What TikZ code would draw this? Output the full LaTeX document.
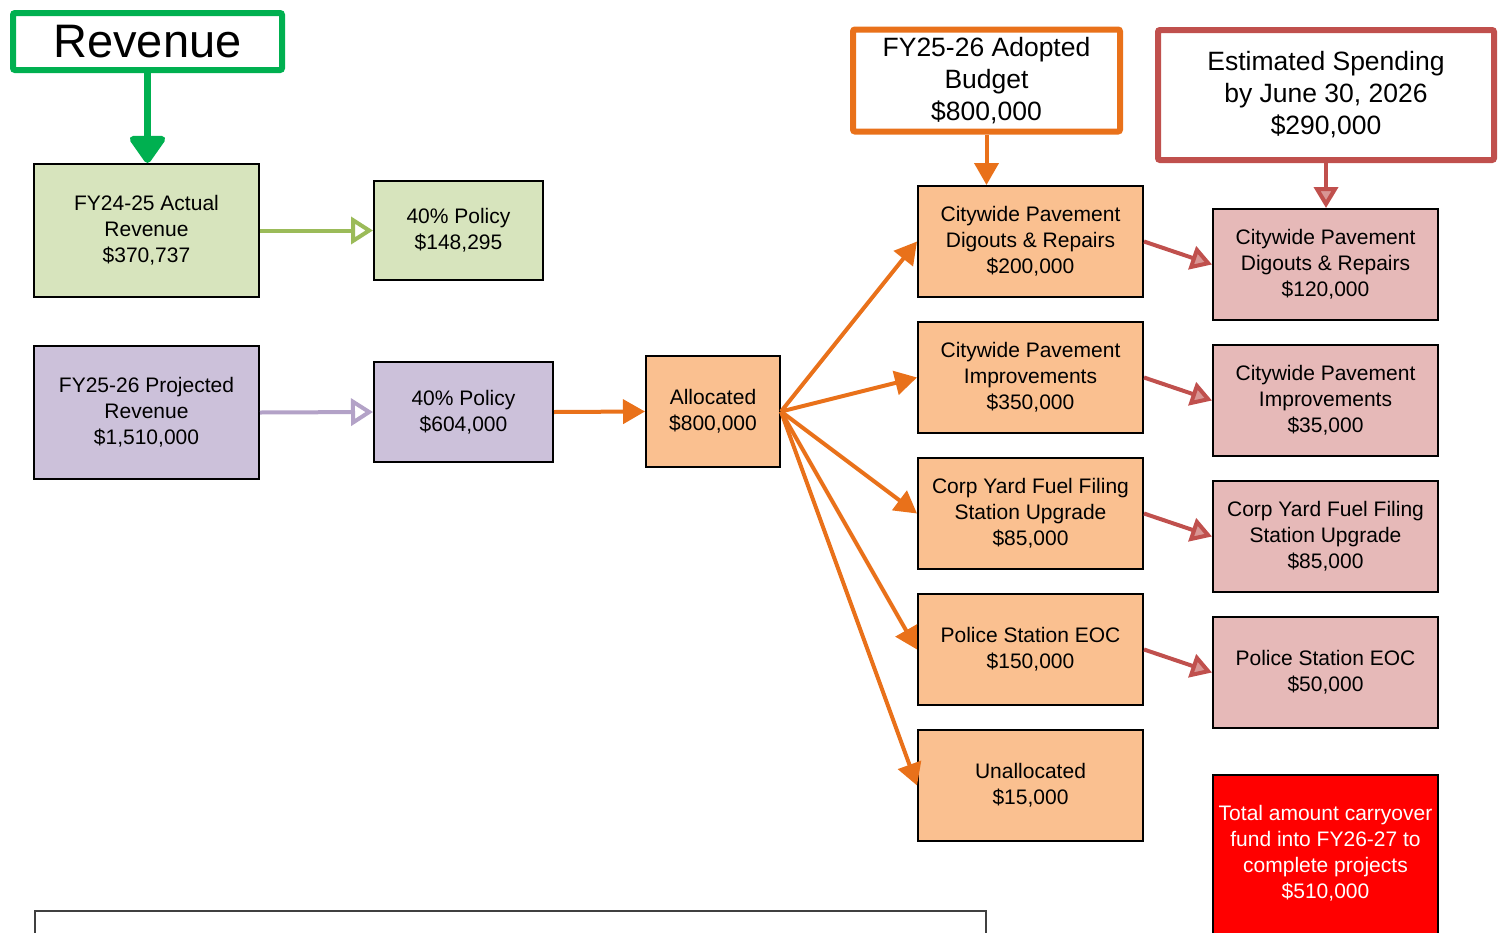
\documentclass[tikz,border=0pt]{standalone}
\usepackage{fontspec}
\setmainfont{Liberation Sans}
\usetikzlibrary{arrows.meta}
\definecolor{gbord}{HTML}{00B050}
\definecolor{gfill}{HTML}{D7E4BD}
\definecolor{garr}{HTML}{9BBB59}
\definecolor{pfill}{HTML}{CCC1DA}
\definecolor{parr}{HTML}{B3A2C7}
\definecolor{ofill}{HTML}{FAC090}
\definecolor{oarr}{HTML}{E9711A}
\definecolor{rfill}{HTML}{E6B9B8}
\definecolor{rarr}{HTML}{C0504D}
\definecolor{rhead}{HTML}{D99694}
\begin{document}
\begin{tikzpicture}[x=1pt,y=-1pt,
  txt/.style={font=\fontsize{21}{26}\selectfont, align=center, text=black},
  bigtxt/.style={font=\fontsize{26.5}{32}\selectfont, align=center, text=black},
  bx/.style={txt, draw=black, line width=2pt, minimum width=225pt, minimum height=111pt, inner sep=0pt},
  gbox/.style={bx, fill=gfill},
  pbox/.style={bx, fill=pfill},
  obox/.style={bx, fill=ofill},
  rbox/.style={bx, fill=rfill},
  headbox/.style={bigtxt, draw, line width=6pt, fill=white, rounded corners=2pt, inner sep=0pt},
  garrow/.style={draw=garr, line width=4pt, -{Triangle[open, length=22pt, width=27pt]}},
  parrow/.style={draw=parr, line width=4pt, -{Triangle[open, length=22pt, width=27pt]}},
  oarrow/.style={draw=oarr, line width=4pt, -{Triangle[length=22pt, width=24pt]}},
  rarrow/.style={draw=rarr, line width=4pt, -{Triangle[length=21pt, width=24pt, fill=rhead]}},
]
\useasboundingbox (0,0) rectangle (1499,932);

% Revenue header
\node[headbox, draw=gbord, minimum width=269pt, minimum height=57pt, font=\fontsize{47}{56}\selectfont] (rev) at (147.5,41.5) {Revenue};

% left column
\node[gbox] (act) at (146.5,230.5) [minimum height=133pt] {FY24-25 Actual\\Revenue\\\$370,737};
\node[gbox, minimum width=169pt, minimum height=99pt] (pol1) at (458.5,230.5) {40\% Policy\\\$148,295};
\node[pbox, minimum height=133pt] (proj) at (146.5,412.5) {FY25-26 Projected\\Revenue\\\$1,510,000};
\node[pbox, minimum width=179pt, minimum height=100pt] (pol2) at (463.5,412) {40\% Policy\\\$604,000};
\node[obox, minimum width=134pt] (alloc) at (713,411.5) {Allocated\\\$800,000};

% orange column
\node[obox] (o1) at (1030.5,241.5) {Citywide Pavement\\Digouts \& Repairs\\\$200,000};
\node[obox] (o2) at (1030.5,377.5) {Citywide Pavement\\Improvements\\\$350,000};
\node[obox] (o3) at (1030.5,513.5) {Corp Yard Fuel Filing\\Station Upgrade\\\$85,000};
\node[obox] (o4) at (1030.5,649.5) {Police Station EOC\\\$150,000};
\node[obox] (o5) at (1030.5,785.5) {Unallocated\\\$15,000};

% red column
\node[rbox] (r1) at (1325.5,264.5) {Citywide Pavement\\Digouts \& Repairs\\\$120,000};
\node[rbox] (r2) at (1325.5,400.5) {Citywide Pavement\\Improvements\\\$35,000};
\node[rbox] (r3) at (1325.5,536.5) {Corp Yard Fuel Filing\\Station Upgrade\\\$85,000};
\node[rbox] (r4) at (1325.5,672.5) {Police Station EOC\\\$50,000};

% headers right
\node[headbox, draw=oarr, minimum width=267pt, minimum height=102pt] (adopt) at (986.5,80.5) {FY25-26 Adopted\\Budget\\\$800,000};
\node[headbox, draw=rarr, minimum width=336pt, minimum height=130pt] (est) at (1326,95) {Estimated Spending\\by June 30, 2026\\\$290,000};

% carryover box
\node[draw=black, line width=2pt, fill=red, minimum width=225pt, minimum height=190pt, inner sep=0pt] (carry) at (1325.5,870) {};
\node[txt, text=white, inner sep=0pt] (carrytxt) at (1325.5,853.5) {Total amount carryover\\fund into FY26-27 to\\complete projects\\\$510,000};

% bottom box
\draw[draw=black!75, line width=2pt] (35,911) rectangle (986,960);

% connectors
\draw[draw=gbord, line width=7pt, -{Triangle[length=30pt, width=40pt, round]}] (rev.south) -- (rev.south |- act.north);
\draw[garrow] (act.east) -- (pol1.west);
\draw[parrow] (proj.east) -- (pol2.west);
\draw[oarrow] (pol2.east) -- (alloc.west);
\foreach \n in {o1,o2,o3,o4,o5}
  \draw[oarrow] (alloc.east) -- (\n.west);
\draw[oarrow] (adopt.south) -- (adopt.south |- o1.north);
\draw[rarrow] (est.south) -- (est.south |- r1.north);
\draw[rarrow] (o1.east) -- (r1.west);
\draw[rarrow] (o2.east) -- (r2.west);
\draw[rarrow] (o3.east) -- (r3.west);
\draw[rarrow] (o4.east) -- (r4.west);
\end{tikzpicture}
\end{document}
